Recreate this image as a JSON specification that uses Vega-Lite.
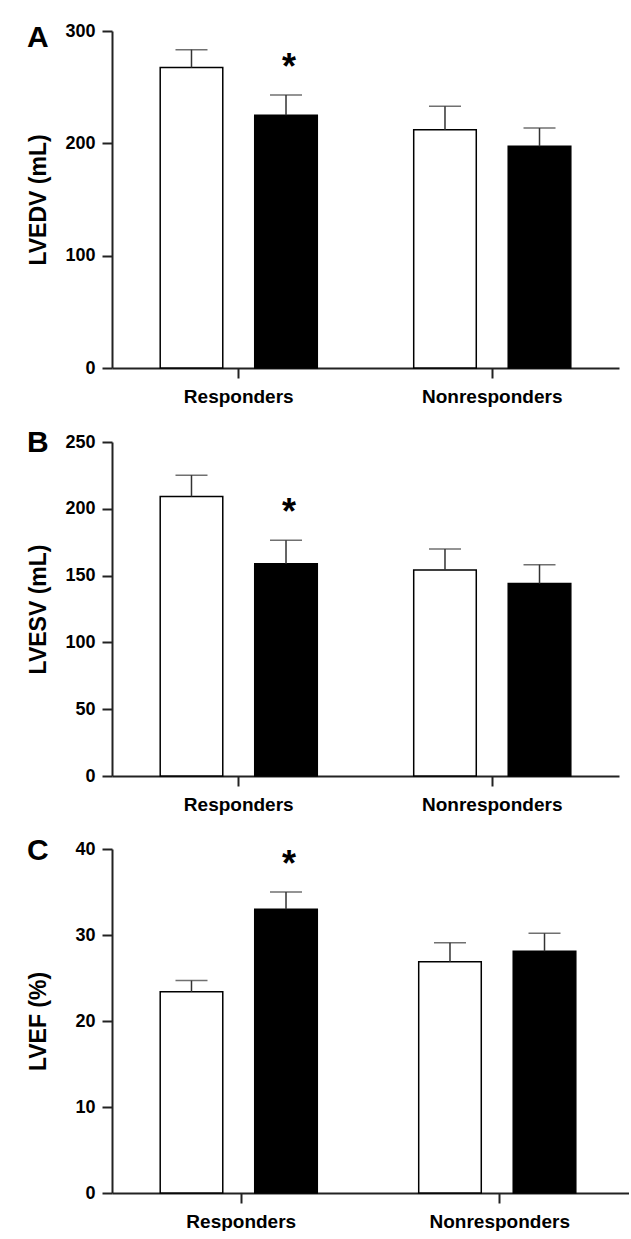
{
  "$schema": "https://vega.github.io/schema/vega-lite/v6.json",
  "padding": {"top": 22, "left": 27, "right": 0, "bottom": 0},
  "spacing": 22,
  "data": {"values": [
    {"panel": "A", "group": "Responders", "phase": "Baseline", "value": 267.4, "upper": 283.4, "sig": ""},
    {"panel": "A", "group": "Responders", "phase": "Follow-up", "value": 225, "upper": 243, "sig": "*"},
    {"panel": "A", "group": "Nonresponders", "phase": "Baseline", "value": 212, "upper": 233, "sig": ""},
    {"panel": "A", "group": "Nonresponders", "phase": "Follow-up", "value": 197.3, "upper": 213.6, "sig": ""},
    {"panel": "B", "group": "Responders", "phase": "Baseline", "value": 209.2, "upper": 225.2, "sig": ""},
    {"panel": "B", "group": "Responders", "phase": "Follow-up", "value": 158.9, "upper": 176.5, "sig": "*"},
    {"panel": "B", "group": "Nonresponders", "phase": "Baseline", "value": 154.2, "upper": 170, "sig": ""},
    {"panel": "B", "group": "Nonresponders", "phase": "Follow-up", "value": 144, "upper": 158.2, "sig": ""},
    {"panel": "C", "group": "Responders", "phase": "Baseline", "value": 23.4, "upper": 24.7, "sig": ""},
    {"panel": "C", "group": "Responders", "phase": "Follow-up", "value": 33.0, "upper": 35.0, "sig": "*"},
    {"panel": "C", "group": "Nonresponders", "phase": "Baseline", "value": 26.9, "upper": 29.1, "sig": ""},
    {"panel": "C", "group": "Nonresponders", "phase": "Follow-up", "value": 28.1, "upper": 30.2, "sig": ""}
  ]},
  "vconcat": [
    {
      "width": 507, "height": 337,
      "title": {"text": "A", "dy": 35},
      "transform": [{"filter": "datum.panel == 'A'"}],
      "encoding": {
        "x": {"field": "group", "type": "nominal", "sort": ["Responders", "Nonresponders"], "scale": {"paddingInner": 0, "paddingOuter": 0}, "axis": {"title": null, "labelAngle": 0, "bandPosition": 0.5}},
        "xOffset": {"field": "phase", "type": "nominal", "sort": ["Baseline", "Follow-up"], "scale": {"paddingInner": 0.338, "paddingOuter": 0.51}}
      },
      "layer": [
        {"mark": {"type": "bar", "stroke": "black", "strokeWidth": 1.5},
         "encoding": {"y": {"field": "value", "type": "quantitative", "scale": {"domain": [0, 300], "nice": false}, "axis": {"title": "LVEDV (mL)", "values": [0, 100, 200, 300]}},
                      "fill": {"field": "phase", "type": "nominal", "scale": {"domain": ["Baseline", "Follow-up"], "range": ["white", "black"]}, "legend": null}}},
        {"mark": {"type": "rule", "color": "#333", "strokeWidth": 1.5},
         "encoding": {"y": {"field": "value", "type": "quantitative"}, "y2": {"field": "upper"}}},
        {"mark": {"type": "tick", "orient": "horizontal", "size": 32, "thickness": 1.5, "color": "#333"},
         "encoding": {"y": {"field": "upper", "type": "quantitative"}}},
        {"transform": [{"filter": "datum.sig == '*'"}],
         "mark": {"type": "text", "fontSize": 36, "fontWeight": "bold", "baseline": "alphabetic", "dy": -16, "dx": 3, "color": "black"},
         "encoding": {"y": {"field": "upper", "type": "quantitative"}, "text": {"field": "sig"}}}
      ]
    },
    {
      "width": 507, "height": 334,
      "title": {"text": "B", "dy": 29},
      "transform": [{"filter": "datum.panel == 'B'"}],
      "encoding": {
        "x": {"field": "group", "type": "nominal", "sort": ["Responders", "Nonresponders"], "scale": {"paddingInner": 0, "paddingOuter": 0}, "axis": {"title": null, "labelAngle": 0, "bandPosition": 0.5}},
        "xOffset": {"field": "phase", "type": "nominal", "sort": ["Baseline", "Follow-up"], "scale": {"paddingInner": 0.338, "paddingOuter": 0.51}}
      },
      "layer": [
        {"mark": {"type": "bar", "stroke": "black", "strokeWidth": 1.5},
         "encoding": {"y": {"field": "value", "type": "quantitative", "scale": {"domain": [0, 250], "nice": false}, "axis": {"title": "LVESV (mL)", "values": [0, 50, 100, 150, 200, 250]}},
                      "fill": {"field": "phase", "type": "nominal", "scale": {"domain": ["Baseline", "Follow-up"], "range": ["white", "black"]}, "legend": null}}},
        {"mark": {"type": "rule", "color": "#333", "strokeWidth": 1.5},
         "encoding": {"y": {"field": "value", "type": "quantitative"}, "y2": {"field": "upper"}}},
        {"mark": {"type": "tick", "orient": "horizontal", "size": 32, "thickness": 1.5, "color": "#333"},
         "encoding": {"y": {"field": "upper", "type": "quantitative"}}},
        {"transform": [{"filter": "datum.sig == '*'"}],
         "mark": {"type": "text", "fontSize": 36, "fontWeight": "bold", "baseline": "alphabetic", "dy": -16, "dx": 3, "color": "black"},
         "encoding": {"y": {"field": "upper", "type": "quantitative"}, "text": {"field": "sig"}}}
      ]
    },
    {
      "width": 517, "height": 344,
      "title": {"text": "C", "dy": 30},
      "transform": [{"filter": "datum.panel == 'C'"}],
      "encoding": {
        "x": {"field": "group", "type": "nominal", "sort": ["Responders", "Nonresponders"], "scale": {"paddingInner": 0, "paddingOuter": 0}, "axis": {"title": null, "labelAngle": 0, "bandPosition": 0.5}},
        "xOffset": {"field": "phase", "type": "nominal", "sort": ["Baseline", "Follow-up"], "scale": {"paddingInner": 0.338, "paddingOuter": 0.51}}
      },
      "layer": [
        {"mark": {"type": "bar", "stroke": "black", "strokeWidth": 1.5},
         "encoding": {"y": {"field": "value", "type": "quantitative", "scale": {"domain": [0, 40], "nice": false}, "axis": {"title": "LVEF (%)", "values": [0, 10, 20, 30, 40]}},
                      "fill": {"field": "phase", "type": "nominal", "scale": {"domain": ["Baseline", "Follow-up"], "range": ["white", "black"]}, "legend": null}}},
        {"mark": {"type": "rule", "color": "#333", "strokeWidth": 1.5},
         "encoding": {"y": {"field": "value", "type": "quantitative"}, "y2": {"field": "upper"}}},
        {"mark": {"type": "tick", "orient": "horizontal", "size": 32, "thickness": 1.5, "color": "#333"},
         "encoding": {"y": {"field": "upper", "type": "quantitative"}}},
        {"transform": [{"filter": "datum.sig == '*'"}],
         "mark": {"type": "text", "fontSize": 36, "fontWeight": "bold", "baseline": "alphabetic", "dy": -16, "dx": 3, "color": "black"},
         "encoding": {"y": {"field": "upper", "type": "quantitative"}, "text": {"field": "sig"}}}
      ]
    }
  ],
  "config": {
    "font": "Liberation Sans",
    "view": {"stroke": null},
    "title": {"fontSize": 30, "fontWeight": "bold", "color": "black", "anchor": "start", "frame": "group", "dx": -85, "font": "Liberation Sans"},
    "axis": {"grid": false, "domainColor": "#222", "domainWidth": 2, "tickColor": "#222", "tickWidth": 2, "tickSize": 10,
             "labelFont": "Liberation Sans", "labelFontWeight": "bold", "labelColor": "black", "labelFontSize": 18,
             "titleFont": "Liberation Sans", "titleFontSize": 23, "titleFontWeight": "bold", "titleColor": "black"},
    "axisX": {"labelPadding": 9, "labelFontSize": 19},
    "axisY": {"labelPadding": 7, "titleX": -62}
  }
}
